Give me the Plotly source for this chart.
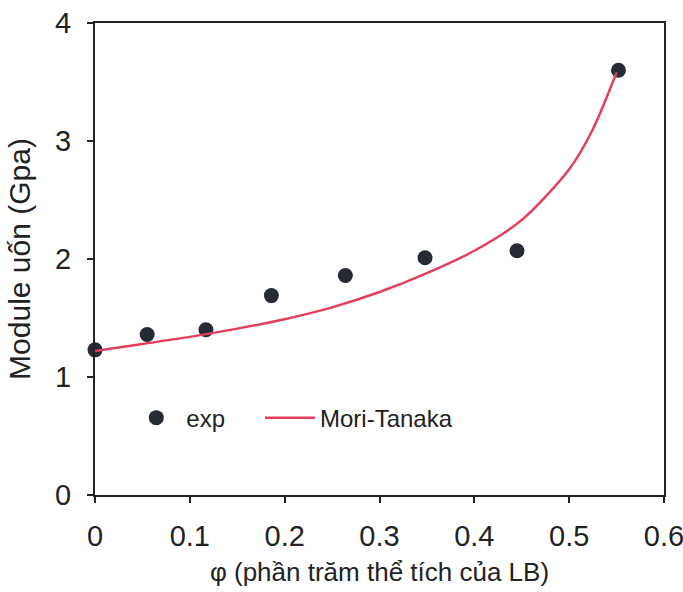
import plotly.graph_objects as go

# Experimental flexural modulus vs. volume fraction
phi_exp = [0.0, 0.055, 0.117, 0.186, 0.264, 0.348, 0.445, 0.552]
E_exp = [1.23, 1.36, 1.40, 1.69, 1.86, 2.01, 2.07, 3.60]

# Mori-Tanaka prediction
phi_mt = [0.0, 0.05, 0.10, 0.15, 0.20, 0.25, 0.30, 0.35, 0.40, 0.45, 0.50, 0.525, 0.55]
E_mt = [1.22, 1.28, 1.34, 1.41, 1.49, 1.59, 1.72, 1.88, 2.07, 2.33, 2.76, 3.10, 3.58]

x_ticks = [0, 0.1, 0.2, 0.3, 0.4, 0.5, 0.6]
x_tick_text = ["0", "0.1", "0.2", "0.3", "0.4", "0.5", "0.6"]
y_ticks = [0, 1, 2, 3, 4]

FONT = "Liberation Sans, Arial, sans-serif"
INK = "#222222"

fig = go.Figure()
fig.add_trace(go.Scatter(
    x=phi_exp, y=E_exp, mode="markers", name="exp",
    marker=dict(size=15, color="#262a33"),
    cliponaxis=False, legend="legend",
))
fig.add_trace(go.Scatter(
    x=phi_mt, y=E_mt, mode="lines", name="Mori-Tanaka",
    line=dict(color="#e2405c", width=2.5, shape="spline", smoothing=0.8),
    legend="legend2",
))

legend_common = dict(
    yanchor="middle", xanchor="left", y=0.163,
    bgcolor="rgba(0,0,0,0)", font=dict(size=24, family=FONT, color=INK),
    itemwidth=50,
)

fig.update_layout(
    width=683, height=592,
    margin=dict(l=95, r=19, t=23, b=97),
    paper_bgcolor="white", plot_bgcolor="white",
    font=dict(family=FONT, color=INK, size=25),
    showlegend=True,
    legend=dict(x=0.055, **legend_common),
    legend2=dict(x=0.29, **legend_common),
    xaxis=dict(
        range=[0, 0.6], tickvals=x_ticks, ticktext=x_tick_text,
        showgrid=False, zeroline=False, automargin=False,
        showline=True, linecolor=INK, linewidth=2, mirror=True,
        ticks="outside", ticklen=6, tickwidth=2, tickcolor=INK,
        tickfont=dict(size=29), ticklabelstandoff=8, ticklabeloverflow="allow",
        title=dict(text="φ (phần trăm thể tích của LB)", font=dict(size=26), standoff=12),
    ),
    yaxis=dict(
        range=[0, 4], tickvals=y_ticks,
        showgrid=False, zeroline=False, automargin=False,
        showline=True, linecolor=INK, linewidth=2, mirror=True,
        ticks="outside", ticklen=6, tickwidth=2, tickcolor=INK,
        tickfont=dict(size=29), ticklabelstandoff=10,
        title=dict(text="Module uốn (Gpa)", font=dict(size=30), standoff=16),
    ),
)

fig.write_html("out.html")
